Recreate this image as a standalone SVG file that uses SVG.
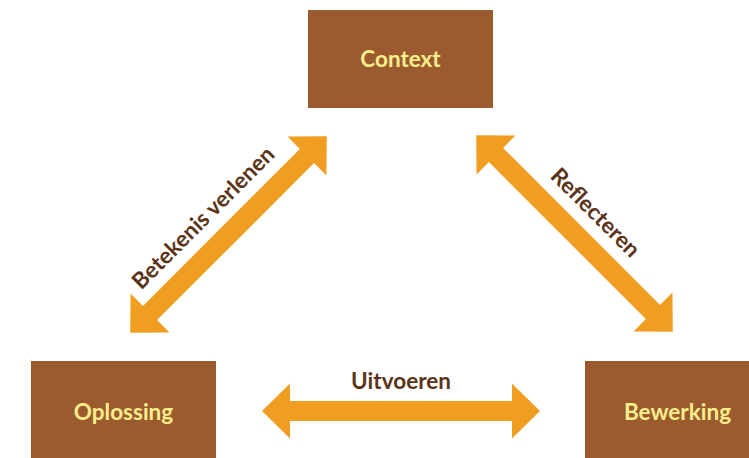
<svg xmlns="http://www.w3.org/2000/svg" width="749" height="458" viewBox="0 0 749 458">
  <style>
    .box { fill: #9C5A2F; }
    .node-text { font-family: Lato, "Open Sans", "Liberation Sans", sans-serif; font-weight: bold; font-size: 22.5px; fill: #FAEE8C; text-anchor: middle; }
    .edge { fill: #F09E21; }
    .edge-text { font-family: Lato, "Open Sans", "Liberation Sans", sans-serif; font-weight: bold; font-size: 22.5px; fill: #5B3418; text-anchor: middle; }
  </style>
  <defs>
    <!-- double-headed block arrow, 278 long, centred on the origin -->
    <polygon id="dbl-arrow" points="-139,0 -111,-27.5 -111,-10 111,-10 111,-27.5 139,0 111,27.5 111,10 -111,10 -111,27.5"/>
  </defs>

  <rect width="749" height="458" fill="#FFFFFF"/>

  <g id="connectors">
    <g id="edge-context-oplossing" transform="translate(228.5,234.5) rotate(-45)">
      <use href="#dbl-arrow" class="edge"/>
      <text class="edge-text" x="-6" y="-22">Betekenis verlenen</text>
    </g>
    <g id="edge-context-bewerking" transform="translate(574.5,233.5) rotate(45)">
      <use href="#dbl-arrow" class="edge"/>
      <text class="edge-text" x="0" y="-22">Reflecteren</text>
    </g>
    <g id="edge-oplossing-bewerking" transform="translate(401,411)">
      <use href="#dbl-arrow" class="edge"/>
      <text class="edge-text" x="0" y="-22">Uitvoeren</text>
    </g>
  </g>

  <g id="node-context">
    <rect class="box" x="308" y="10" width="185" height="98"/>
    <text class="node-text" x="400.5" y="67">Context</text>
  </g>
  <g id="node-oplossing">
    <rect class="box" x="31" y="361" width="185" height="98"/>
    <text class="node-text" x="123.5" y="420">Oplossing</text>
  </g>
  <g id="node-bewerking">
    <rect class="box" x="585" y="361" width="185" height="98"/>
    <text class="node-text" x="677.5" y="420">Bewerking</text>
  </g>
</svg>
